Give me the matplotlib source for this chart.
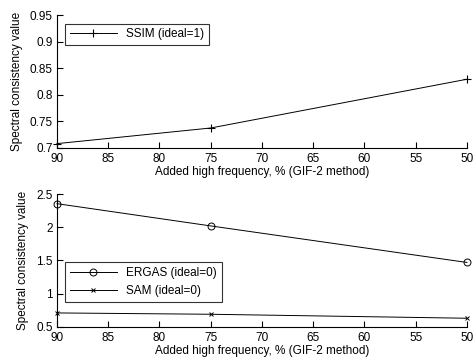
import matplotlib
matplotlib.use("Agg")
import matplotlib.pyplot as plt

plt.rcParams['font.family'] = ['Liberation Sans', 'DejaVu Sans']

freq = [90, 75, 50]
ssim = [0.7075, 0.737, 0.829]
ergas = [2.355, 2.02, 1.47]
sam = [0.71, 0.69, 0.63]
xticks = [90, 85, 80, 75, 70, 65, 60, 55, 50]
top_yticks = [0.7, 0.75, 0.8, 0.85, 0.9, 0.95]
top_ylabels = ['0.7', '0.75', '0.8', '0.85', '0.9', '0.95']
bot_yticks = [0.5, 1, 1.5, 2, 2.5]
bot_ylabels = ['0.5', '1', '1.5', '2', '2.5']

fig = plt.figure(figsize=(4.75, 3.6), dpi=100)
fs = 8.5
ax1 = fig.add_axes([0.12, 0.590, 0.863, 0.368])
ax2 = fig.add_axes([0.12, 0.092, 0.863, 0.369])

def style(ax):
    for s in ['top', 'right']:
        ax.spines[s].set_visible(False)
    for s in ['left', 'bottom']:
        ax.spines[s].set_linewidth(0.8)
    ax.tick_params(direction='in', length=4, width=0.8, labelsize=fs, pad=3)
    ax.tick_params(axis='x', pad=4)
    ax.set_xlim(90, 50)
    ax.set_xticks(xticks)
    ax.set_xticklabels([str(v) for v in xticks])
    ax.set_xlabel('Added high frequency, % (GIF-2 method)', fontsize=fs, labelpad=0.5)
    ax.set_ylabel('Spectral consistency value', fontsize=fs, labelpad=5)

ax1.plot(freq, ssim, color='black', lw=0.7, marker='+', ms=6, mew=0.8,
         label='SSIM (ideal=1)', clip_on=False)
style(ax1)
ax1.set_ylim(0.7, 0.95)
ax1.set_yticks(top_yticks)
ax1.set_yticklabels(top_ylabels)
leg1 = ax1.legend(loc='upper left', fontsize=fs, frameon=True, fancybox=False,
                  edgecolor='black', borderpad=0.4, handlelength=4,
                  bbox_to_anchor=(0.005, 0.98))
leg1.get_frame().set_linewidth(0.8)

ax2.plot(freq, ergas, color='black', lw=0.7, marker='o', ms=5, mfc='none', mew=0.7,
         label='ERGAS (ideal=0)', clip_on=False)
ax2.plot(freq, sam, color='black', lw=0.7, marker='x', ms=3.5, mew=0.7,
         label='SAM (ideal=0)', clip_on=False)
style(ax2)
ax2.set_ylim(0.5, 2.5)
ax2.set_yticks(bot_yticks)
ax2.set_yticklabels(bot_ylabels)
leg2 = ax2.legend(loc='upper left', fontsize=fs, frameon=True, fancybox=False,
                  edgecolor='black', borderpad=0.4, handlelength=4,
                  bbox_to_anchor=(0.005, 0.53))
leg2.get_frame().set_linewidth(0.8)

fig.savefig('out.png', dpi=100)
